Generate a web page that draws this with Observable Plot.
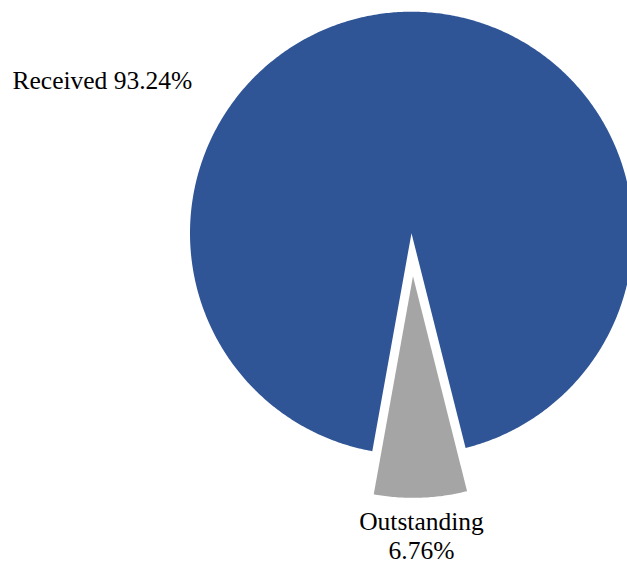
<!DOCTYPE html>
<html>
<head>
<meta charset="utf-8">
<script src="https://cdn.jsdelivr.net/npm/d3@7"></script>
<script src="https://cdn.jsdelivr.net/npm/@observablehq/plot@0.6"></script>
<style>
  html, body { margin: 0; padding: 0; background: #fff; }
  #chart svg { display: block; }
  #chart text { font-family: "Liberation Serif", "Times New Roman", serif; }
</style>
</head>
<body>
<div id="chart"></div>
<script>
// ---- data ----
const categories = ["Received", "Outstanding"];
const shares = [93.24, 6.76];
const valueLabels = ["93.24%", "6.76%"];
const colors = ["#2F5597", "#A5A5A5"];

// ---- layout ----
const W = 627, H = 564;
const cx = 411, cy = 232.7, R = 221.5;
const startAngle = 190.2;            // degrees clockwise from 12 o'clock
const explode = [0, 0.195];          // fraction of radius
const fontFamily = "Liberation Serif";
const fontSize = 25.5;

// build slice polygons (unit circle coordinates, y up)
const rad = Math.PI / 180;
const pts = [];
let a = startAngle;
categories.forEach((cat, i) => {
  const span = shares[i] / 100 * 360;
  const a0 = a, a1 = a + span, mid = (a0 + a1) / 2;
  const ox = Math.sin(mid * rad) * explode[i];
  const oy = Math.cos(mid * rad) * explode[i];
  pts.push({cat, x: ox, y: oy});
  const n = Math.max(2, Math.ceil(span / 0.5));
  for (let k = 0; k <= n; k++) {
    const t = (a0 + (a1 - a0) * k / n) * rad;
    pts.push({cat, x: ox + Math.sin(t), y: oy + Math.cos(t)});
  }
  a = a1;
});

const labels = [
  {text: `${categories[0]} ${valueLabels[0]}`, x: (12 - cx) / R, y: (cy - 80) / R, anchor: "start"},
  {text: `${categories[1]}\n${valueLabels[1]}`, x: (421 - cx) / R, y: (cy - 534.5) / R, anchor: "middle"}
];

const chart = Plot.plot({
  width: W,
  height: H,
  margin: 0,
  style: {fontFamily, background: "#fff"},
  x: {domain: [-1, 1], range: [cx - R, cx + R], axis: null},
  y: {domain: [-1, 1], range: [cy + R, cy - R], axis: null},
  color: {domain: categories, range: colors},
  marks: [
    Plot.line(pts, {x: "x", y: "y", z: "cat", fill: "cat", stroke: null, curve: "linear-closed"}),
    Plot.text(labels.filter(d => d.anchor === "start"), {x: "x", y: "y", text: "text", textAnchor: "start", fontSize, fontFamily, fill: "#000"}),
    Plot.text(labels.filter(d => d.anchor === "middle"), {x: "x", y: "y", text: "text", textAnchor: "middle", fontSize, fontFamily, lineHeight: 1.14, fill: "#000"})
  ]
});
document.getElementById("chart").appendChild(chart);
</script>
</body>
</html>
